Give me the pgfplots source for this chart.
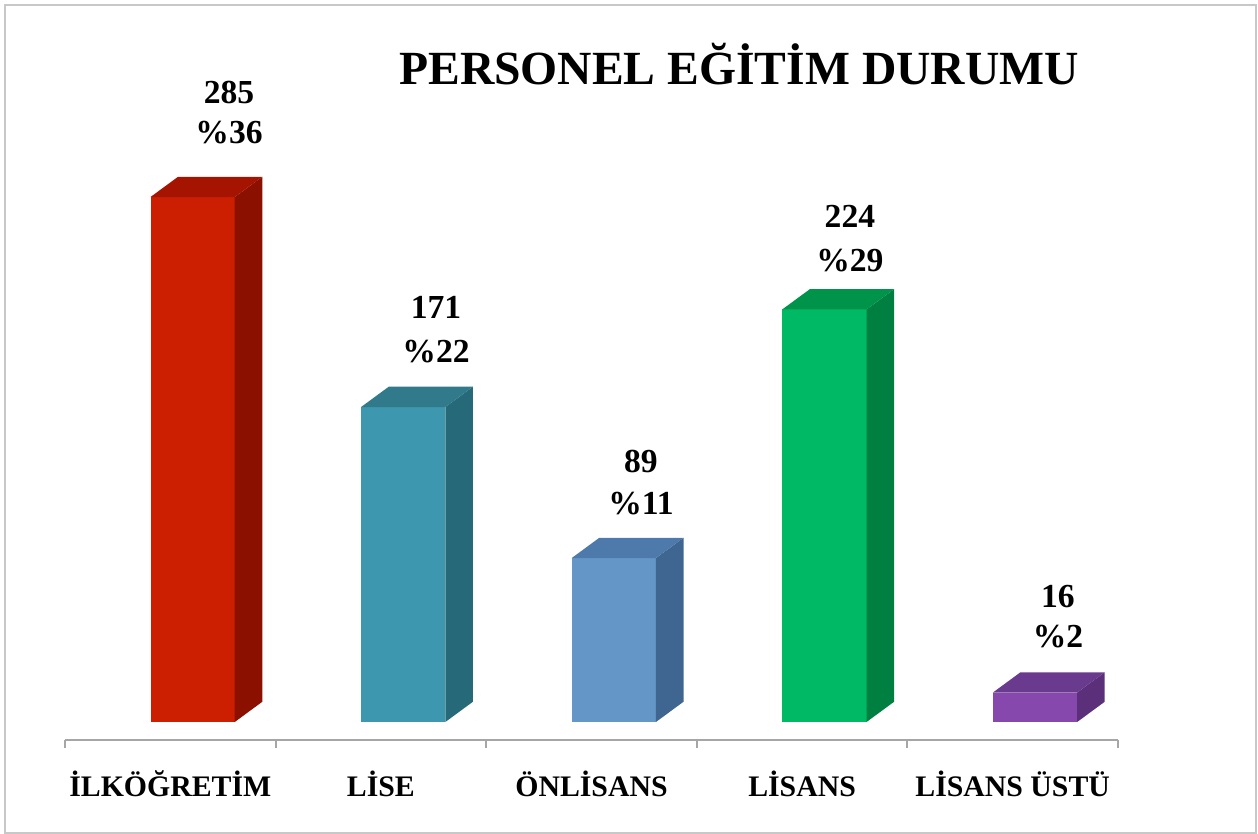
\documentclass[border=0pt]{standalone}
\usepackage{fontspec}
\setmainfont{Liberation Serif}
\usepackage{pgfplots}
\pgfplotsset{compat=1.18}
\definecolor{redF}{HTML}{CC1E00}\definecolor{redT}{HTML}{A51400}\definecolor{redS}{HTML}{8C1000}
\definecolor{tealF}{HTML}{3D97AE}\definecolor{tealT}{HTML}{307A8C}\definecolor{tealS}{HTML}{266A7A}
\definecolor{blueF}{HTML}{6496C8}\definecolor{blueT}{HTML}{4D7AAA}\definecolor{blueS}{HTML}{3F6690}
\definecolor{greenF}{HTML}{00B964}\definecolor{greenT}{HTML}{00934A}\definecolor{greenS}{HTML}{008040}
\definecolor{purF}{HTML}{8748AE}\definecolor{purT}{HTML}{6A3A8E}\definecolor{purS}{HTML}{5B2F7A}
\begin{document}
\begin{tikzpicture}
\useasboundingbox (0,0) rectangle (629pt,417pt);
\draw[color={rgb,255:red,200;green,200;blue,200}, line width=1pt] (2.5pt,414.5pt) rectangle (628pt,0.5pt);
\node[anchor=base, font=\fontsize{23.8}{28}\selectfont\bfseries] at (369.5pt,374.5pt) {PERSONEL EĞİTİM DURUMU};
\begin{axis}[
  at={(32.5pt,47pt)}, anchor=south west,
  x=105.3pt, y=0.921pt,
  xmin=-0.5, xmax=4.5, ymin=-9.77, ymax=380,
  axis x line=bottom, axis y line=none,
  axis line style={-, draw={rgb,255:red,166;green,166;blue,166}, line width=1pt},
  xtick={-0.5,0.5,1.5,2.5,3.5,4.5}, xticklabels={},
  tick align=outside, major tick length=4pt,
  x tick style={draw={rgb,255:red,166;green,166;blue,166}, line width=1pt},
  clip=false,
]
% front faces
\addplot[ybar, bar width=42.1pt, bar shift=11.2pt, fill=redF, draw=none] coordinates {(0,285)};
\addplot[ybar, bar width=42.1pt, bar shift=11.2pt, fill=tealF, draw=none] coordinates {(1,171)};
\addplot[ybar, bar width=42.1pt, bar shift=11.2pt, fill=blueF, draw=none] coordinates {(2,89)};
\addplot[ybar, bar width=42.1pt, bar shift=11.2pt, fill=greenF, draw=none] coordinates {(3,224)};
\addplot[ybar, bar width=42.1pt, bar shift=11.2pt, fill=purF, draw=none] coordinates {(4,16)};
% side faces
\addplot[fill=redS, draw=none, mark=none] coordinates {(0.306,0) (0.306,285) (0.437,296) (0.437,11)} --cycle;
\addplot[fill=tealS, draw=none, mark=none] coordinates {(1.306,0) (1.306,171) (1.437,182) (1.437,11)} --cycle;
\addplot[fill=blueS, draw=none, mark=none] coordinates {(2.306,0) (2.306,89) (2.437,100) (2.437,11)} --cycle;
\addplot[fill=greenS, draw=none, mark=none] coordinates {(3.306,0) (3.306,224) (3.437,235) (3.437,11)} --cycle;
\addplot[fill=purS, draw=none, mark=none] coordinates {(4.306,0) (4.306,16) (4.437,27) (4.437,11)} --cycle;
% top faces
\addplot[fill=redT, draw=none, mark=none] coordinates {(-0.094,285) (0.306,285) (0.437,296) (0.037,296)} --cycle;
\addplot[fill=tealT, draw=none, mark=none] coordinates {(0.906,171) (1.306,171) (1.437,182) (1.037,182)} --cycle;
\addplot[fill=blueT, draw=none, mark=none] coordinates {(1.906,89) (2.306,89) (2.437,100) (2.037,100)} --cycle;
\addplot[fill=greenT, draw=none, mark=none] coordinates {(2.906,224) (3.306,224) (3.437,235) (3.037,235)} --cycle;
\addplot[fill=purT, draw=none, mark=none] coordinates {(3.906,16) (4.306,16) (4.437,27) (4.037,27)} --cycle;
% value labels
\begin{scope}[every node/.style={anchor=base, font=\fontsize{16.8}{20}\selectfont\bfseries, inner sep=0pt}]
\node at (axis cs:0.279,336.0) {285}; \node at (axis cs:0.279,313.8) {\%36};
\node at (axis cs:1.262,219.3) {171}; \node at (axis cs:1.262,195.4) {\%22};
\node at (axis cs:2.235,135.7) {89};  \node at (axis cs:2.235,112.4) {\%11};
\node at (axis cs:3.227,268.7) {224}; \node at (axis cs:3.227,244.8) {\%29};
\node at (axis cs:4.215,62.4) {16};   \node at (axis cs:4.215,40.2) {\%2};
\end{scope}
% category labels
\begin{scope}[every node/.style={anchor=base, font=\fontsize{14.9}{18}\selectfont\bfseries, inner sep=0pt}]
\node at (axis cs:0,-40.7) {İLKÖĞRETİM};
\node at (axis cs:1,-40.7) {LİSE};
\node at (axis cs:2,-40.7) {ÖNLİSANS};
\node at (axis cs:3,-40.7) {LİSANS};
\node at (axis cs:4,-40.7) {LİSANS ÜSTÜ};
\end{scope}
\end{axis}
\end{tikzpicture}
\end{document}
